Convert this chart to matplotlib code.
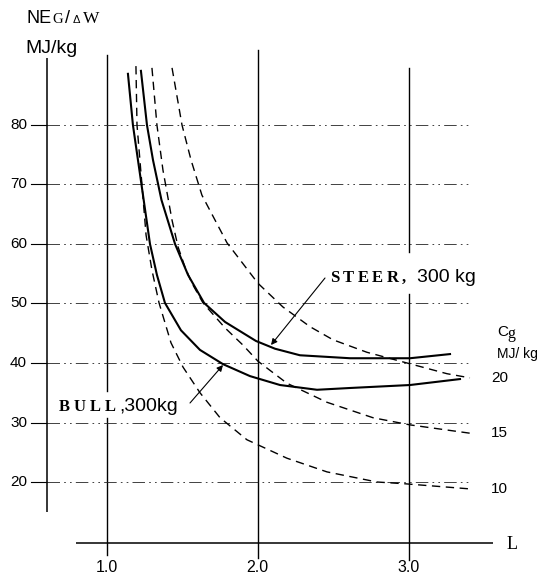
import matplotlib
matplotlib.use('Agg')
import matplotlib.pyplot as plt

plt.rcParams['lines.scale_dashes'] = False

# ---------------- data ----------------
# L values (x) and NEg/dW values (y, MJ/kg)
bull_x = [1.142, 1.175, 1.235, 1.288, 1.334, 1.387, 1.493, 1.619, 1.772, 1.950,
          2.149, 2.394, 2.613, 3.010, 3.341]
bull_y = [88.6, 80.0, 69.4, 60.0, 54.8, 50.1, 45.5, 42.2, 39.8, 37.8,
          36.3, 35.5, 35.8, 36.3, 37.3]

steer_x = [1.228, 1.268, 1.308, 1.364, 1.454, 1.540, 1.646, 1.785, 1.990, 2.116,
           2.281, 2.613, 3.010, 3.275]
steer_y = [89.1, 80.0, 74.1, 67.4, 60.0, 54.8, 50.1, 46.9, 43.7, 42.4,
           41.3, 40.8, 40.8, 41.5]

cg10_x = [1.195, 1.202, 1.235, 1.262, 1.301, 1.348, 1.427, 1.507, 1.619, 1.752,
          1.930, 2.195, 2.460, 2.791, 2.977, 3.427]
cg10_y = [89.9, 80.0, 69.9, 61.5, 55.6, 50.1, 43.4, 39.3, 35.0, 30.8,
          27.1, 24.0, 21.7, 20.0, 19.7, 18.8]

cg15_x = [1.301, 1.334, 1.374, 1.434, 1.474, 1.520, 1.566, 1.639, 1.785, 1.904,
          2.003, 2.195, 2.460, 2.765, 3.010, 3.407]
cg15_y = [89.6, 80.0, 72.4, 64.0, 59.5, 56.1, 53.4, 50.1, 45.9, 43.0,
          40.3, 36.6, 33.4, 30.8, 29.6, 28.2]

cg20_x = [1.434, 1.500, 1.560, 1.632, 1.798, 2.003, 2.169, 2.348, 2.500, 2.725,
          2.990, 3.255, 3.407]
cg20_y = [89.6, 80.0, 74.1, 68.2, 60.2, 53.4, 49.4, 46.1, 43.9, 41.8,
          40.0, 38.2, 37.5]

cg_labels = ["10", "15", "20"]
y_ticks = [20, 30, 40, 50, 60, 70, 80]
x_ticks = [1.0, 2.0, 3.0]
x_tick_labels = ["1.0", "2.0", "3.0"]

# ---------------- figure ----------------
W, H = 542, 576
fig = plt.figure(figsize=(W / 100, H / 100), dpi=100)
ax = fig.add_axes([0, 0, 1, 1])
ax.set_xlim(0.2947, 3.8841)
ax.set_ylim(4.202, 101.008)
ax.axis('off')

SANS = 'Liberation Sans'
SERIF = 'Liberation Serif'
K = 'black'
renderer = fig.canvas.get_renderer()


def fp(x, y):
    """figure-pixel (from top-left) to figure fraction"""
    return x / W, 1 - y / H


def spaced(x, y, s, gap, **kw):
    """draw text letter by letter with extra spacing (pixels)"""
    for ch in s:
        t = fig.text(*fp(x, y), ch, va='baseline', ha='left', **kw)
        w = t.get_window_extent(renderer=renderer).width
        x += w + gap


# axes lines
ax.plot([0.606, 0.606], [15.0, 91.3], color=K, lw=1.1, solid_capstyle='butt')
ax.plot([0.798, 3.560], [9.75, 9.75], color=K, lw=1.1, solid_capstyle='butt')

# vertical grid lines
ax.plot([1.0, 1.0], [91.8, 35.3], color=K, lw=1.0)
ax.plot([1.0, 1.0], [30.8, 7.7], color=K, lw=1.0)
ax.plot([2.0, 2.0], [92.6, 7.2], color=K, lw=1.0)
ax.plot([3.0, 3.0], [89.6, 58.6], color=K, lw=1.0)
ax.plot([3.0, 3.0], [51.6, 6.9], color=K, lw=1.0)

# horizontal grid lines (dash-dot-dot) with short tick stubs
for v in y_ticks:
    ax.plot([0.50, 0.606], [v, v], color=K, lw=0.8)
    ax.plot([0.606, 3.42], [v, v], color='#222222', lw=0.6,
            linestyle=(0, (9, 3, 1.2, 3, 1.2, 3)))
    ax.text(0.4735, v, str(v), ha='right', va='center', fontsize=11,
            family=SANS, color=K)

for t, lab in zip(x_ticks, x_tick_labels):
    ax.text(t, 5.6, lab, ha='center', va='center', fontsize=11.5,
            family=SANS, color=K)

# Cg dashed curves
for xs, ys, lab in [(cg10_x, cg10_y, cg_labels[0]),
                    (cg15_x, cg15_y, cg_labels[1]),
                    (cg20_x, cg20_y, cg_labels[2])]:
    ax.plot(xs, ys, color=K, lw=1.0, linestyle=(0, (6, 4)))
    ax.text(3.545, ys[-1], lab, ha='left', va='center', fontsize=11,
            family=SANS, color=K)

# solid curves
ax.plot(bull_x, bull_y, color=K, lw=1.5, solid_joinstyle='round')
ax.plot(steer_x, steer_y, color=K, lw=1.5, solid_joinstyle='round')

# ---------------- texts ----------------
fig.text(*fp(27, 23), "NE", family=SANS, fontsize=13, va='baseline', ha='left')
fig.text(*fp(52, 23), "G", family=SERIF, fontsize=10.5, va='baseline', ha='left')
fig.text(*fp(65, 23), "/", family=SANS, fontsize=13, va='baseline', ha='left')
fig.text(*fp(73, 23), "Δ", family=SANS, fontsize=8, va='baseline', ha='left')
fig.text(*fp(83, 23), "W", family=SERIF, fontsize=12.5, va='baseline', ha='left')
fig.text(*fp(25, 53), "MJ/kg", family=SANS, fontsize=14, va='baseline', ha='left')

fig.text(*fp(497, 336), "C", family=SANS, fontsize=11, va='baseline', ha='left')
fig.text(*fp(507, 338), "g", family=SERIF, fontsize=11.5, va='baseline', ha='left')
fig.text(*fp(497, 358), "MJ/ kg", family=SANS, fontsize=10, va='baseline', ha='left')

fig.text(*fp(512, 549), "L", family=SERIF, fontsize=13, va='baseline', ha='center')

spaced(330, 282, "STEER,", 3.5, family=SERIF, fontsize=12, weight='bold')
fig.text(*fp(417, 282), "300 kg", family=SANS, fontsize=14, va='baseline', ha='left')

spaced(59, 411, "BULL", 4, family=SERIF, fontsize=12, weight='bold')
fig.text(*fp(119, 411), ",300kg", family=SANS, fontsize=14, va='baseline', ha='left')

# arrows
ax.annotate("", xy=(271, H - 345), xycoords='figure pixels',
            xytext=(325, H - 278), textcoords='figure pixels',
            arrowprops=dict(arrowstyle='-|>', color=K, lw=0.8,
                            mutation_scale=9, shrinkA=0, shrinkB=0))
ax.annotate("", xy=(223, H - 365), xycoords='figure pixels',
            xytext=(190, H - 403), textcoords='figure pixels',
            arrowprops=dict(arrowstyle='-|>', color=K, lw=0.8,
                            mutation_scale=9, shrinkA=0, shrinkB=0))

fig.savefig('out.png', dpi=100, facecolor='white')
